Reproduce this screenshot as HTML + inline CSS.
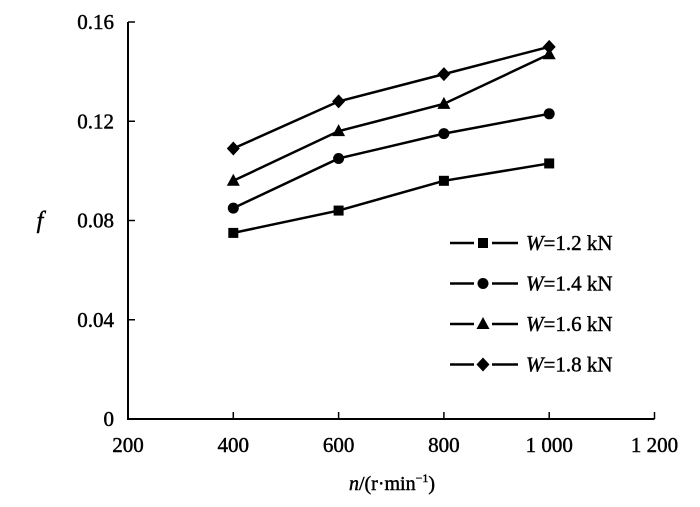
<!DOCTYPE html>
<html><head><meta charset="utf-8"><style>
body{margin:0;background:#fff}
svg text{font-family:"Liberation Serif",serif;fill:#000;stroke:#000;stroke-width:0.45px}
</style></head><body>
<svg width="700" height="502">
<g id="axes"></g><g id="plot"></g><g id="legend"></g>
</svg>
<script>
const xTicks=[200,400,600,800,1000,1200];
const xTickLabels=["200","400","600","800","1 000","1 200"];
const yTicks=[0,0.04,0.08,0.12,0.16];
const yTickLabels=["0","0.04","0.08","0.12","0.16"];
const speeds=[400,600,800,1000];
const seriesNames=["W=1.2 kN","W=1.4 kN","W=1.6 kN","W=1.8 kN"];
const s12=[0.075,0.084,0.096,0.103];
const s14=[0.085,0.105,0.115,0.123];
const s16=[0.096,0.116,0.127,0.147];
const s18=[0.109,0.128,0.139,0.150];
const allSeries=[s12,s14,s16,s18];
const markers=["square","circle","triangle","diamond"];
const NS="http://www.w3.org/2000/svg";
const X=v=>128+(v-200)*(526.5/1000);
const Y=v=>419-v*(397/0.16);
function mk(tag,attrs,parent){const e=document.createElementNS(NS,tag);for(const k in attrs)e.setAttribute(k,attrs[k]);parent.appendChild(e);return e;}
const axes=document.getElementById('axes'),plot=document.getElementById('plot'),legend=document.getElementById('legend');
let ax=mk('path',{d:`M${X(200)},${Y(0.16)} V${Y(0)} H${X(1200)}`,stroke:'#000','stroke-width':2,fill:'none'},axes);


xTicks.forEach((t,i)=>{
 const l=mk('line',{x1:X(t),x2:X(t),y1:Y(0),y2:Y(0)-7,stroke:'#000','stroke-width':1.5},axes);
 
 
 const tx=mk('text',{x:X(t),y:452,'text-anchor':'middle','font-size':21},axes);tx.textContent=xTickLabels[i];
 
 
});
yTicks.forEach((t,i)=>{
 const l=mk('line',{x1:X(200),x2:X(200)+7,y1:Y(t),y2:Y(t),stroke:'#000','stroke-width':1.5},axes);
 
 
 const tx=mk('text',{x:114,y:Y(t)+7,'text-anchor':'end','font-size':21},axes);tx.textContent=yTickLabels[i];
 
 
});
let xt=mk('text',{x:392,y:490,'text-anchor':'middle','font-size':20},axes);
xt.innerHTML='<tspan font-style="italic">n</tspan>/(r·min<tspan font-size="12" dy="-8">−1</tspan><tspan dy="8">)</tspan>';


let yt=mk('text',{x:40,y:228,'text-anchor':'middle','font-size':24,'font-style':'italic'},axes);yt.textContent='f';


function marker(type,x,y,parent){
 let e;
 if(type==='square')e=mk('rect',{x:x-5,y:y-5,width:10,height:10},parent);
 else if(type==='circle')e=mk('circle',{cx:x,cy:y,r:5.5},parent);
 else if(type==='triangle')e=mk('polygon',{points:`${x},${y-7} ${x+6.5},${y+5} ${x-6.5},${y+5}`},parent);
 else e=mk('polygon',{points:`${x},${y-7} ${x+6.5},${y} ${x},${y+7} ${x-6.5},${y}`},parent);
 e.setAttribute('fill','#000');return e;
}
allSeries.forEach((s,si)=>{
 const g=mk('g',{},plot);
 
 
 mk('polyline',{points:speeds.map((v,i)=>X(v)+','+Y(s[i])).join(' '),fill:'none',stroke:'#000','stroke-width':2.5},g);
 speeds.forEach((v,i)=>{const m=marker(markers[si],X(v),Y(s[i]),g);
  
  });
 const ly=243+si*40.5;
 const lg=mk('g',{},legend);
 
 
 mk('line',{x1:450,x2:474,y1:ly,y2:ly,stroke:'#000','stroke-width':2.5},lg);
 mk('line',{x1:492,x2:518,y1:ly,y2:ly,stroke:'#000','stroke-width':2.5},lg);
 marker(markers[si],483,ly,lg);
 const t=mk('text',{x:526,y:ly+7,'font-size':21},lg);
 t.innerHTML='<tspan font-style="italic">W</tspan>'+seriesNames[si].slice(1);
});
</script>
</body></html>
